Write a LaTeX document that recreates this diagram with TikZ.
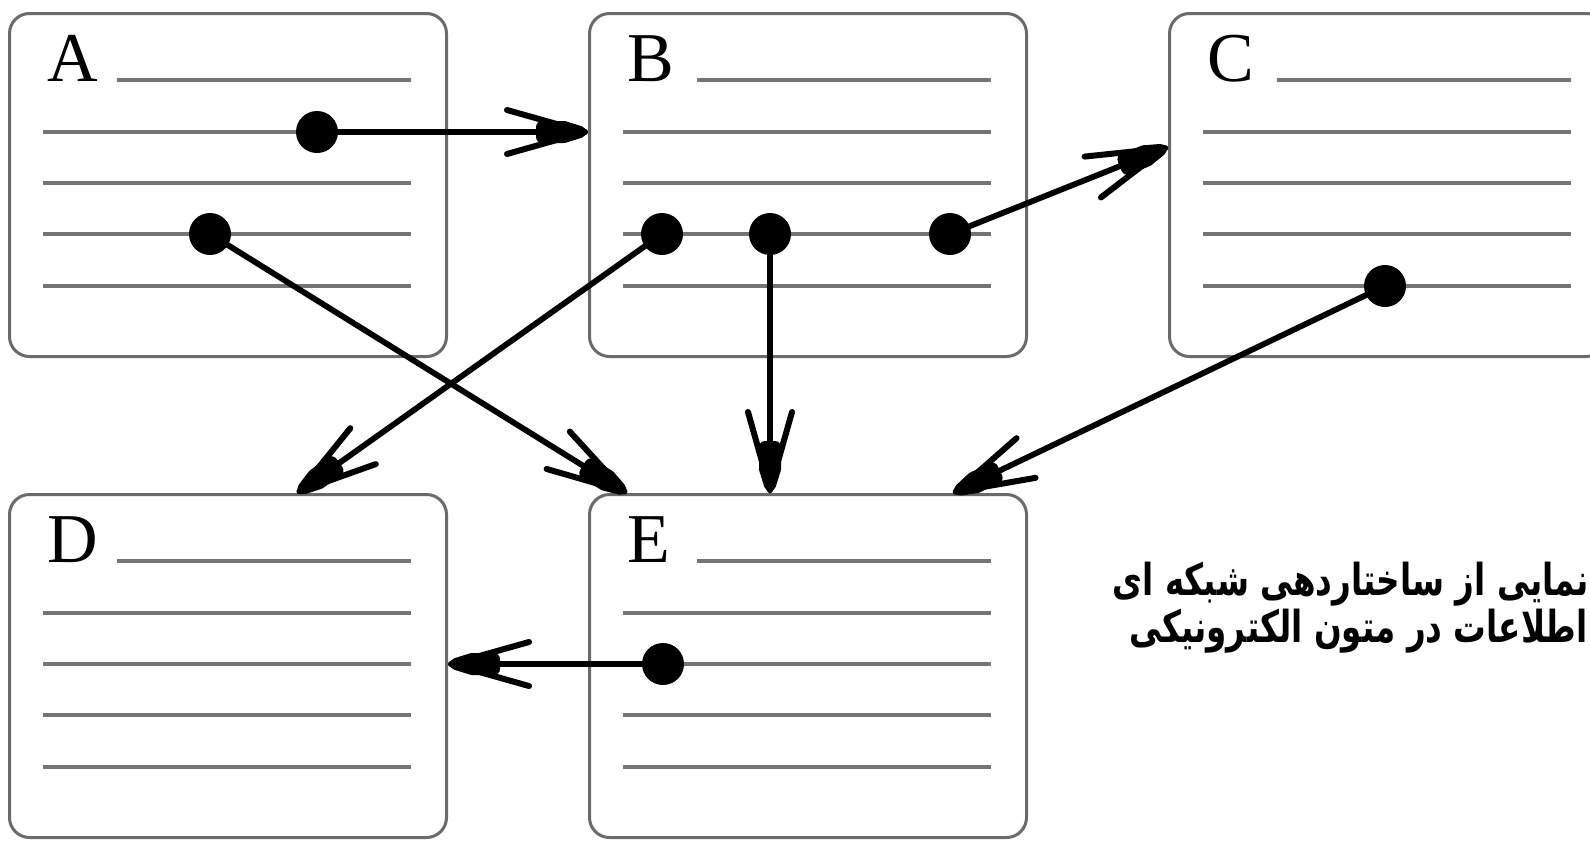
\documentclass[tikz,border=0pt]{standalone}
\usepackage{fontspec}
\setmainfont{Liberation Serif}
\newfontfamily\arabicfont[Script=Arabic,FakeStretch=0.74]{DejaVu Sans}
\TeXXeTstate=1
\usetikzlibrary{arrows.meta,calc}
\definecolor{boxgray}{HTML}{6A6A6A}
\definecolor{linegray}{HTML}{747474}
\pgfdeclarearrow{
  name=FatBarb,
  setup code={
    \pgfarrowssettipend{0pt}
    \pgfarrowssetlineend{-20pt}
    \pgfarrowssetbackend{-42pt}
    \pgfarrowssetvisualbackend{-27pt}
    \pgfarrowshullpoint{0pt}{0pt}
    \pgfarrowshullpoint{-42pt}{12.5pt}
    \pgfarrowshullpoint{-42pt}{-12.5pt}
  },
  drawing code={
    \pgfsetlinewidth{6pt}
    \pgfsetroundjoin
    \pgfsetroundcap
    \pgfpathmoveto{\pgfpoint{-4pt}{0pt}}
    \pgfpathlineto{\pgfpoint{-12pt}{2.5pt}}
    \pgfpathlineto{\pgfpoint{-23pt}{2.5pt}}
    \pgfpathlineto{\pgfpoint{-23pt}{-2.5pt}}
    \pgfpathlineto{\pgfpoint{-12pt}{-2.5pt}}
    \pgfpathclose
    \pgfusepathqstroke
    \pgfsetlinewidth{3pt}
    \pgfpathmoveto{\pgfpoint{-40.5pt}{11pt}}
    \pgfpathlineto{\pgfpoint{-1.5pt}{0pt}}
    \pgfpathlineto{\pgfpoint{-40.5pt}{-11pt}}
    \pgfusepathqstroke
  }
}
\tikzset{
  docbox/.style={draw=boxgray, line width=1.5pt, rounded corners=10pt, rectangle,
    minimum width=218.5pt, minimum height=171.5pt, inner sep=0pt, anchor=north west, fill=white},
  lbl/.style={font=\fontsize{35pt}{40pt}\selectfont, inner sep=0pt, anchor=base west},
  txtline/.style={draw=linegray, line width=1.8pt},
  dot/.style={circle, fill=black, minimum size=21pt, inner sep=0pt},
  conn/.style={draw=black, line width=2.9pt, -{FatBarb}},
  fa/.style={font=\arabicfont\bfseries\fontsize{22pt}{24pt}\selectfont, inner sep=0pt, anchor=base east}
}
\begin{document}
\begin{tikzpicture}[x=0.5pt,y=-0.5pt]
\useasboundingbox (0,0) rectangle (1590,841);
\fill[white] (0,0) rectangle (1590,841);
% boxes
\node[docbox] (A) at (8,12) {};
\node[docbox] (B) at (588,12) {};
\node[docbox] (C) at (1168,12) {};
\node[docbox] (D) at (8,493) {};
\node[docbox] (E) at (588,493) {};
% labels
\node[lbl] (Al) at (47,81) {A};
\node[lbl] (Bl) at (627,81) {B};
\node[lbl] (Cl) at (1207,81) {C};
\node[lbl] (Dl) at (47,562) {D};
\node[lbl] (El) at (627,562) {E};
% text lines
\foreach \L/\T in {8/12, 588/12, 1168/12, 8/493, 588/493}{
  \draw[txtline] (\L+109,\T+68) -- (\L+403,\T+68);
  \foreach \dy in {120,171,222,274}{
    \draw[txtline] (\L+35,\T+\dy) -- (\L+403,\T+\dy);
  }
}
% dots
\node[dot] (a1) at (317,132) {};
\node[dot] (a2) at (210,234) {};
\node[dot] (b1) at (662,234) {};
\node[dot] (b2) at (770,234) {};
\node[dot] (b3) at (950,234) {};
\node[dot] (c1) at (1385,286) {};
\node[dot] (e1) at (663,664) {};
% arrow ends
\coordinate (tC) at (1168,147);
\coordinate (tD1) at (297,493);
\coordinate (tE1) at (627,493);
\coordinate (tE3) at (953,493);
% connectors
\draw[conn] (a1.center) -- (a1 -| B.west);
\draw[conn] (a2.center) -- (tE1);
\draw[conn] (b1.center) -- (tD1);
\draw[conn] (b2.center) -- (b2 |- E.north);
\draw[conn] (b3.center) -- (tC);
\draw[conn] (c1.center) -- (tE3);
\draw[conn] (e1.center) -- (e1 -| D.east);
% caption
\node[fa] (cap1) at (1589,595) {\beginR نمایی از ساختاردهی شبکه ای\endR};
\node[fa] (cap2) at (1588,642) {\beginR اطلاعات در متون الکترونیکی\endR};
\end{tikzpicture}
\end{document}
